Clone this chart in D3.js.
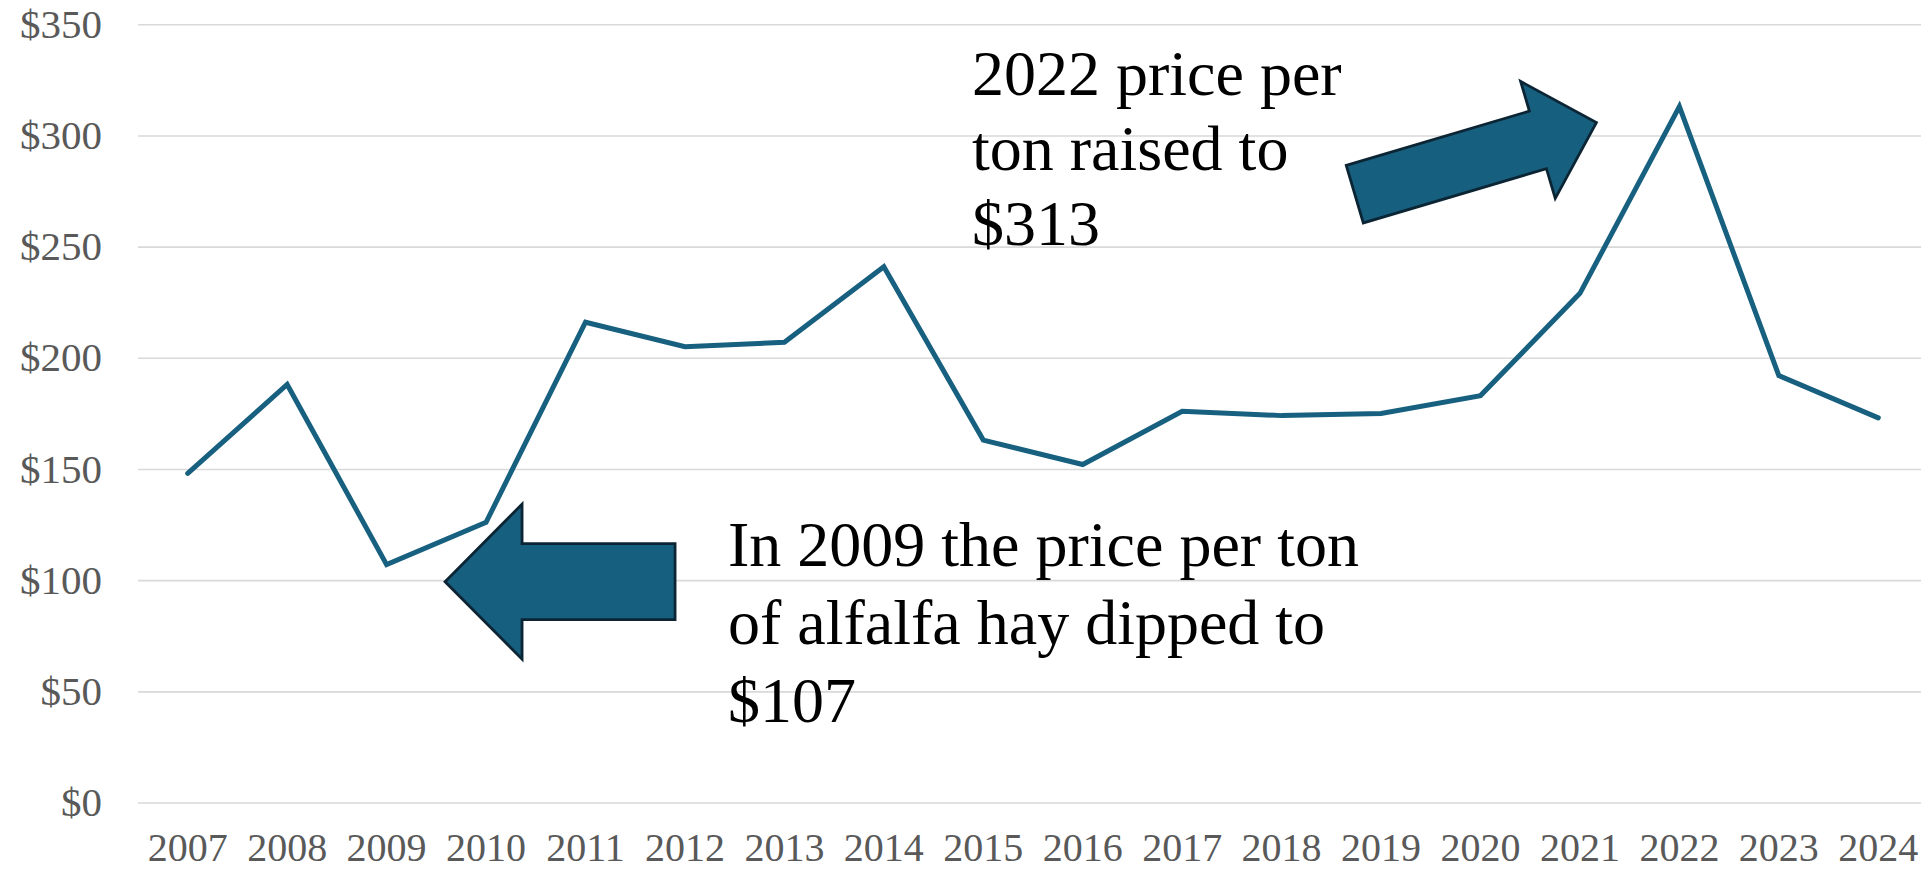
<!DOCTYPE html>
<html>
<head>
<meta charset="utf-8">
<script src="https://cdn.jsdelivr.net/npm/d3@7"></script>
<style>
    html, body { margin: 0; padding: 0; background: #fff; overflow: hidden; }
    #chart text { font-family: "Liberation Serif", "DejaVu Serif", serif; }
    .tick text { fill: #595959; font-size: 41px; }
    .x-axis .tick text { font-size: 40px; }
    .grid line { stroke: #d9d9d9; stroke-width: 1.6px; }
    .note { fill: #000; font-size: 64px; }
</style>
</head>
<body>
<div id="chart"></div>
<script>
    // 数据
    const years = ['2007', '2008', '2009', '2010', '2011', '2012', '2013', '2014', '2015',
        '2016', '2017', '2018', '2019', '2020', '2021', '2022', '2023', '2024'];
    const prices = [148, 188, 107, 126, 216, 205, 207, 241, 163, 152, 176, 174, 175, 183, 229, 313, 192, 173];
    const yTicks = [0, 50, 100, 150, 200, 250, 300, 350];

    // 注释文字
    const lowNote = ['In 2009 the price per ton', 'of alfalfa hay dipped to', '$107'];
    const highNote = ['2022 price per', 'ton raised to', '$313'];

    const width = 1921;
    const height = 870;

    const svg = d3.select('#chart').append('svg').attr('width', width).attr('height', height);

    // 比例尺
    const x = d3.scaleBand().domain(years).range([138, 1928]);
    const y = d3.scaleLinear().domain([0, 350]).range([802.5, 24.3]);
    const cx = function (d) { return x(d) + x.bandwidth() / 2; };

    // y轴 + 网格线
    const yAxis = d3.axisLeft(y).tickValues(yTicks)
        .tickFormat(function (d) { return '$' + d; })
        .tickSize(-(1928 - 138)).tickPadding(36);

    svg.append('g').attr('class', 'grid').attr('transform', 'translate(138,0)')
        .call(yAxis)
        .call(function (g) { g.select('.domain').remove(); });

    // x轴
    const xAxis = d3.axisBottom(x).tickSize(0).tickPadding(30);
    svg.append('g').attr('class', 'x-axis').attr('transform', 'translate(0,' + y(0) + ')')
        .call(xAxis)
        .call(function (g) { g.select('.domain').remove(); });

    svg.selectAll('.tick text').attr('font-family', null).attr('font-size', null);

    // 折线
    const line = d3.line()
        .x(function (d, i) { return cx(years[i]); })
        .y(function (d) { return y(d); });

    svg.append('path').datum(prices)
        .attr('d', line)
        .attr('fill', 'none')
        .attr('stroke', '#17607f')
        .attr('stroke-width', 5)
        .attr('stroke-linejoin', 'miter')
        .attr('stroke-linecap', 'round');

    // 箭头：长度、杆宽、头宽、头长（本地坐标，尖端在原点右侧）
    const arrowPath = function (len, shaftHalf, headHalf, headLen) {
        const b = len - headLen;
        return 'M0,' + (-shaftHalf) + 'L' + b + ',' + (-shaftHalf) + 'L' + b + ',' + (-headHalf) +
            'L' + len + ',0L' + b + ',' + headHalf + 'L' + b + ',' + shaftHalf + 'L0,' + shaftHalf + 'Z';
    };

    // 2009 左箭头：尖端靠近 2010 的 $100 位置
    const lowTipX = cx('2010') - 41;
    const lowTipY = y(100);
    svg.append('path')
        .attr('d', arrowPath(230, 38, 77.5, 77))
        .attr('transform', 'translate(' + (lowTipX + 230) + ',' + (lowTipY + 1.5) + ') rotate(180)')
        .attr('fill', '#175f7f')
        .attr('stroke', '#0c2535')
        .attr('stroke-width', 2.8);

    // 2022 右箭头：斜向上指向峰值
    const highTailX = cx('2022') - 324.6;
    const highTailY = y(313) + 87.6;
    svg.append('path')
        .attr('d', arrowPath(252, 30, 61, 61))
        .attr('transform', 'translate(' + highTailX + ',' + highTailY + ') rotate(-16.5)')
        .attr('fill', '#175f7f')
        .attr('stroke', '#0c2535')
        .attr('stroke-width', 2.8);

    // 注释文字
    const lowText = svg.append('text').attr('class', 'note')
        .attr('x', 728).attr('y', 566);
    lowText.selectAll('tspan').data(lowNote).enter().append('tspan')
        .attr('x', 728)
        .attr('dy', function (d, i) { return i === 0 ? 0 : 78; })
        .text(function (d) { return d; });

    const highText = svg.append('text').attr('class', 'note')
        .attr('x', 972).attr('y', 95);
    highText.selectAll('tspan').data(highNote).enter().append('tspan')
        .attr('x', 972)
        .attr('dy', function (d, i) { return i === 0 ? 0 : 75; })
        .text(function (d) { return d; });
</script>
</body>
</html>
